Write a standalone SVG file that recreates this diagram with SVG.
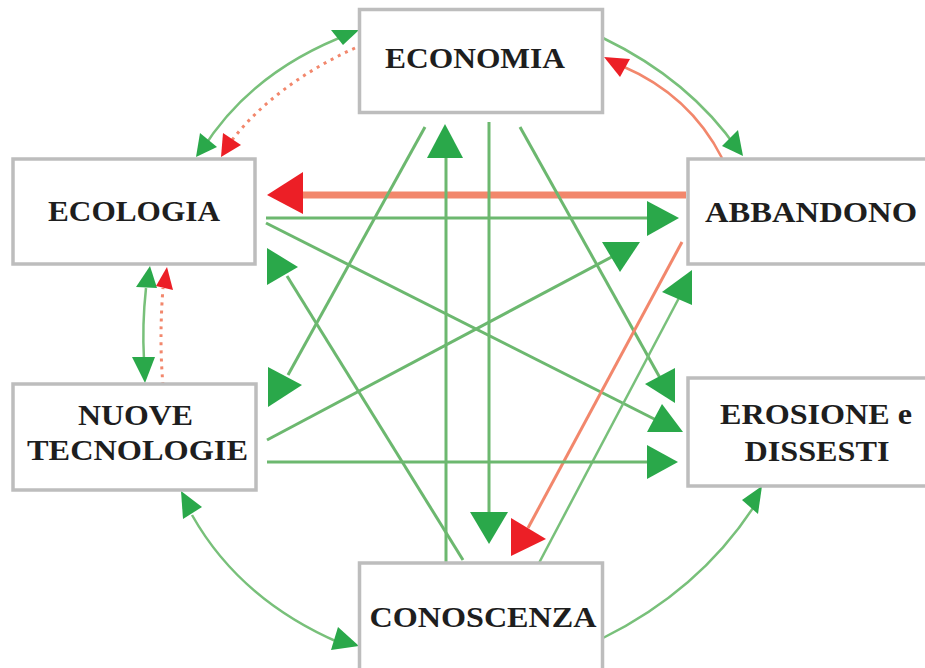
<svg xmlns="http://www.w3.org/2000/svg" width="925" height="668" viewBox="0 0 925 668">
<style>
.box{fill:#fff;stroke:#bdbdbd;stroke-width:3.5}
.lbl{font-family:"Liberation Serif","Times New Roman",serif;font-weight:bold;font-size:30px;fill:#1e1e1e;text-anchor:middle}
.g{fill:none;stroke:#6cb86f;stroke-width:3}
.gt{fill:none;stroke:#78c07a;stroke-width:2.5}
.r{fill:none;stroke:#f2876c;stroke-width:3}
.rt{fill:none;stroke:#f2876c;stroke-width:7}
.rd{fill:none;stroke:#f2876c;stroke-width:3;stroke-dasharray:3 5}
.ga{fill:#2aa84a}
.ra{fill:#ec1f26}
</style>
<rect width="925" height="668" fill="#fff"/>
<g id="connectors">
  <path class="gt" d="M352 33 Q252 70 202 150"/>
  <polygon class="ga" points="331,30 359,30 343,45"/>
  <polygon class="ga" points="200,133 217,147 196,157"/>
  <path class="rd" d="M355 48 Q276 84 232 140"/>
  <polygon class="ra" points="223,133 241,145 221,157"/>
  <path class="gt" d="M603 38 Q690 80 738 150"/>
  <polygon class="ga" points="738,130 722,146 743,156"/>
  <path class="r" d="M722 158 Q690 95 622 66" style="stroke-width:2.5"/>
  <polygon class="ra" points="604,57 630,59 620,77"/>
  <path class="gt" d="M146 288 Q142 325 144 360"/>
  <polygon class="ga" points="150,266 136,287 157,288"/>
  <polygon class="ga" points="132,357 155,357 145,383"/>
  <path class="rd" d="M163 385 Q159 340 163 288"/>
  <polygon class="ra" points="167,267 156,286 173,290"/>
  <path class="gt" d="M192 515 Q240 600 340 643"/>
  <polygon class="ga" points="181,491 202,507 183,519"/>
  <polygon class="ga" points="338,627 359,646 331,650"/>
  <path class="gt" d="M603 638 Q700 590 755 505"/>
  <polygon class="ga" points="762,486 742,500 758,514"/>
  <line class="rt" x1="686" y1="195" x2="300" y2="195"/>
  <polygon class="ra" points="267,195 303,172 303,214"/>
  <line class="g" x1="266" y1="218" x2="650" y2="218"/>
  <polygon class="ga" points="647,201 679,218 647,236"/>
  <line class="g" x1="425" y1="127" x2="288" y2="375"/>
  <polygon class="ga" points="268,367 302,385 268,407"/>
  <line class="g" x1="446" y1="563" x2="446" y2="155"/>
  <polygon class="ga" points="445,124 463,158 427,158"/>
  <line class="g" x1="489" y1="122" x2="489" y2="515"/>
  <polygon class="ga" points="470,512 508,512 489,544"/>
  <line class="g" x1="520" y1="127" x2="664" y2="385"/>
  <polygon class="ga" points="675,368 675,403 645,384"/>
  <line class="g" x1="266" y1="223" x2="676" y2="430"/>
  <polygon class="ga" points="662,404 683,432 647,432"/>
  <line class="g" x1="267" y1="440" x2="621" y2="252"/>
  <polygon class="ga" points="602,242 640,242 620,272"/>
  <line class="g" x1="463" y1="560" x2="287" y2="276"/>
  <polygon class="ga" points="267,248 298,267 267,285"/>
  <line class="gt" x1="539" y1="563" x2="680" y2="296"/>
  <polygon class="ga" points="692,270 692,305 662,292"/>
  <line class="r" x1="682" y1="242" x2="528" y2="528"/>
  <polygon class="ra" points="511,518 546,539 511,556"/>
  <line class="g" x1="267" y1="462" x2="650" y2="462"/>
  <polygon class="ga" points="647,445 678,462 647,479"/>
</g>
<g id="economia">
  <rect class="box" x="359.5" y="9.5" width="243" height="103"/>
  <text class="lbl" x="475" y="68" textLength="180" lengthAdjust="spacingAndGlyphs">ECONOMIA</text>
</g>
<g id="ecologia">
  <rect class="box" x="13" y="159" width="242" height="105"/>
  <text class="lbl" x="134" y="221" textLength="172" lengthAdjust="spacingAndGlyphs">ECOLOGIA</text>
</g>
<g id="abbandono">
  <rect class="box" x="688" y="159" width="250" height="105"/>
  <text class="lbl" x="811" y="222" textLength="212" lengthAdjust="spacingAndGlyphs">ABBANDONO</text>
</g>
<g id="nuove-tecnologie">
  <rect class="box" x="13" y="384" width="243" height="106"/>
  <text class="lbl" x="135.5" y="425" textLength="115" lengthAdjust="spacingAndGlyphs">NUOVE</text>
  <text class="lbl" x="137.5" y="460" textLength="221" lengthAdjust="spacingAndGlyphs">TECNOLOGIE</text>
</g>
<g id="erosione-dissesti">
  <rect class="box" x="688" y="378" width="250" height="108"/>
  <text class="lbl" x="816" y="424" textLength="192" lengthAdjust="spacingAndGlyphs">EROSIONE e</text>
  <text class="lbl" x="817" y="461" textLength="145" lengthAdjust="spacingAndGlyphs">DISSESTI</text>
</g>
<g id="conoscenza">
  <rect class="box" x="359.5" y="563" width="243" height="120"/>
  <text class="lbl" x="483" y="627" textLength="227" lengthAdjust="spacingAndGlyphs">CONOSCENZA</text>
</g>
</svg>
